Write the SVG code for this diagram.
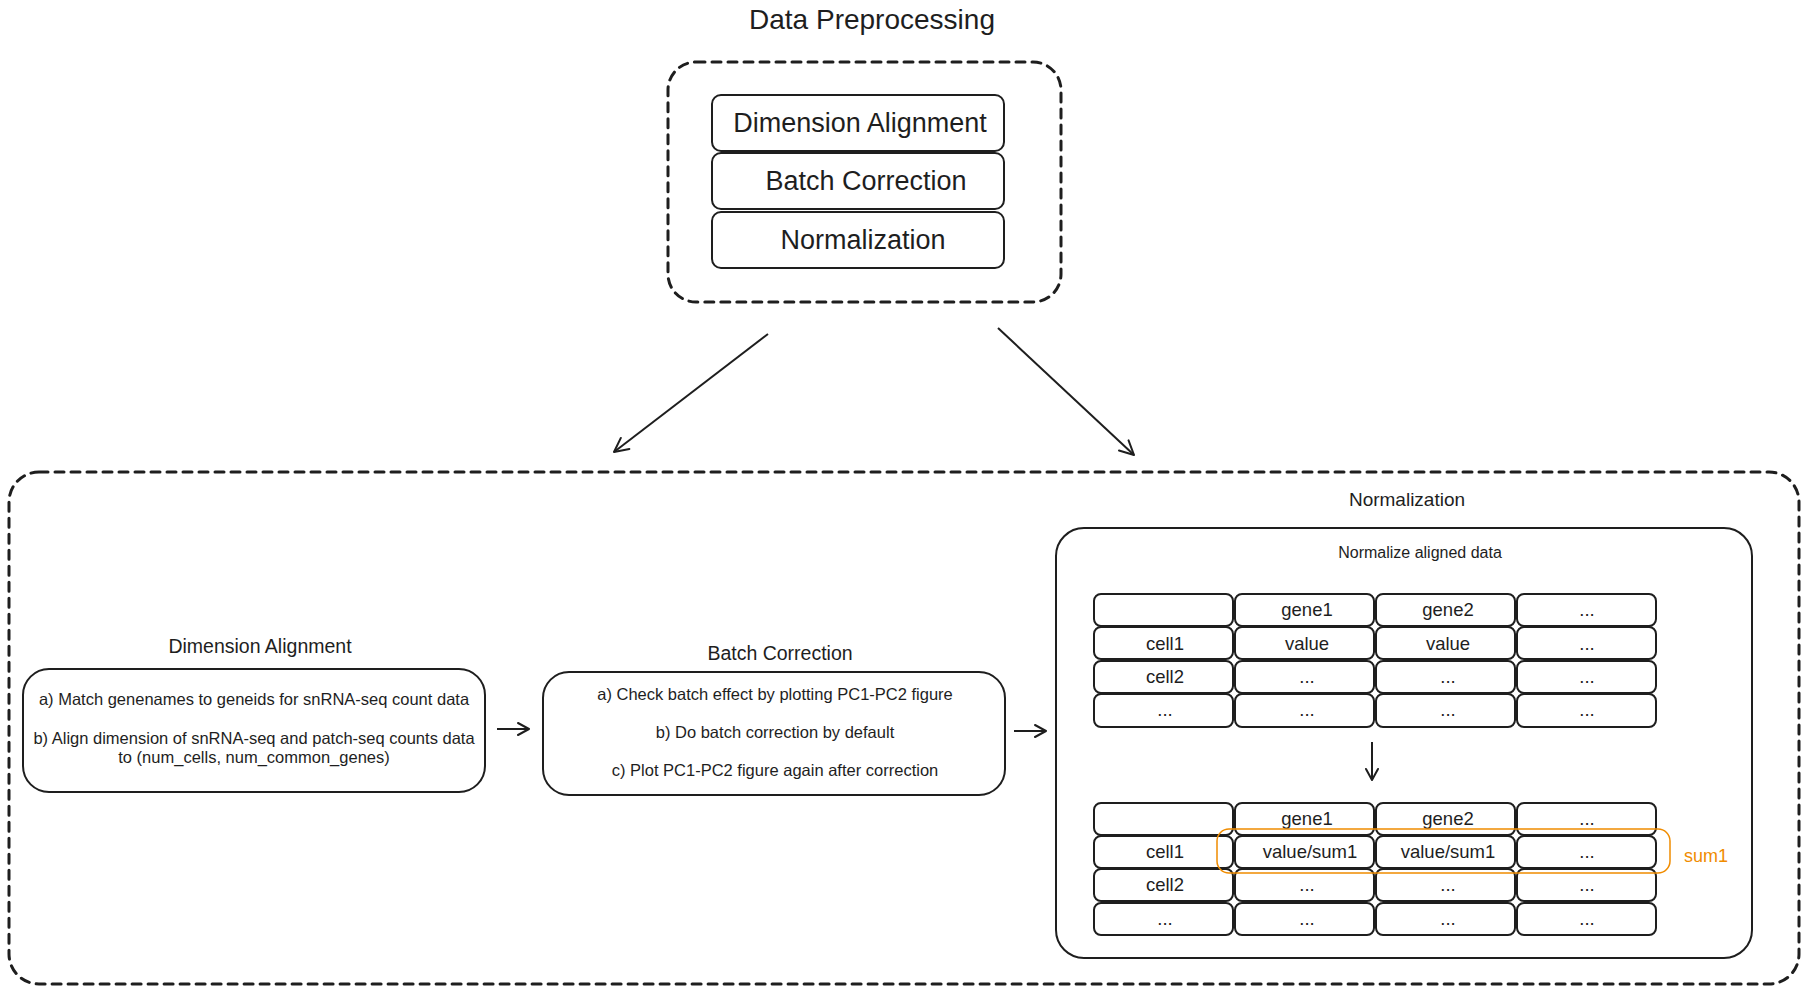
<svg xmlns="http://www.w3.org/2000/svg" width="1812" height="1000" viewBox="0 0 1812 1000">
<defs>
<style>
.t{font-family:"Liberation Sans",Arial,sans-serif;fill:#1e1e1e;text-anchor:middle}
.box{fill:none;stroke:#1e1e1e;stroke-width:2}
.dash{fill:none;stroke:#1e1e1e;stroke-width:3;stroke-dasharray:9 7;stroke-linecap:round}
.cell{fill:#fff;stroke:#1e1e1e;stroke-width:2}
.ct{font-family:"Liberation Sans",Arial,sans-serif;fill:#1e1e1e;text-anchor:middle;font-size:18.5px}
.conn{stroke:#1e1e1e;stroke-width:2;fill:none}
</style>
<marker id="ah" viewBox="0 0 20 20" refX="18" refY="10" markerWidth="20" markerHeight="20" markerUnits="userSpaceOnUse" orient="auto">
<path d="M4 3 L18 10 L4 17" fill="none" stroke="#1e1e1e" stroke-width="2" stroke-linecap="round" stroke-linejoin="round"/>
</marker>
<marker id="ahs" viewBox="0 0 16 16" refX="14" refY="8" markerWidth="16" markerHeight="16" markerUnits="userSpaceOnUse" orient="auto">
<path d="M3 2 L14 8 L3 14" fill="none" stroke="#1e1e1e" stroke-width="2" stroke-linecap="round" stroke-linejoin="round"/>
</marker>
</defs>
<rect width="1812" height="1000" fill="#fff"/>

<g id="preprocessing">
<text class="t" x="872" y="29" font-size="28">Data Preprocessing</text>
<rect class="dash" x="668" y="62" width="393" height="240" rx="28"/>
</g>
<g id="pp-dimension">
<rect class="box" x="712" y="95" width="292" height="56" rx="9" stroke-width="3"/>
<text class="t" x="860" y="132" font-size="27">Dimension Alignment</text>
</g>
<g id="pp-batch">
<rect class="box" x="712" y="153" width="292" height="56" rx="9" stroke-width="3"/>
<text class="t" x="866" y="190" font-size="27">Batch Correction</text>
</g>
<g id="pp-norm">
<rect class="box" x="712" y="212" width="292" height="56" rx="9" stroke-width="3"/>
<text class="t" x="863" y="249" font-size="27">Normalization</text>
</g>

<g id="pipeline">
<rect class="dash" x="9" y="472" width="1790" height="512" rx="30"/>
</g>

<g id="dimension-alignment">
<text class="t" x="260" y="653" font-size="19.5">Dimension Alignment</text>
<rect class="box" x="23" y="669" width="462" height="123" rx="26"/>
<text class="t" x="254" y="705" font-size="16.5">a) Match genenames to geneids for snRNA-seq count data</text>
<text class="t" x="254" y="744" font-size="16.5">b) Align dimension of snRNA-seq and patch-seq counts data</text>
<text class="t" x="254" y="763" font-size="16.5">to (num_cells, num_common_genes)</text>
</g>

<g id="batch-correction">
<text class="t" x="780" y="660" font-size="19.5">Batch Correction</text>
<rect class="box" x="543" y="672" width="462" height="123" rx="26"/>
<text class="t" x="775" y="700" font-size="16.5">a) Check batch effect by plotting PC1-PC2 figure</text>
<text class="t" x="775" y="738" font-size="16.5">b) Do batch correction by default</text>
<text class="t" x="775" y="776" font-size="16.5">c) Plot PC1-PC2 figure again after correction</text>
</g>

<g id="normalization">
<text class="t" x="1407" y="506" font-size="19">Normalization</text>
<rect class="box" x="1056" y="528" width="696" height="430" rx="28"/>
<text class="t" x="1420" y="558" font-size="16">Normalize aligned data</text>
</g>

<g id="table-before">
<rect class="cell" x="1094" y="594" width="139" height="32" rx="7"/>
<rect class="cell" x="1235" y="594" width="139" height="32" rx="7"/>
<rect class="cell" x="1376" y="594" width="139" height="32" rx="7"/>
<rect class="cell" x="1517" y="594" width="139" height="32" rx="7"/>
<rect class="cell" x="1094" y="627" width="139" height="32" rx="7"/>
<rect class="cell" x="1235" y="627" width="139" height="32" rx="7"/>
<rect class="cell" x="1376" y="627" width="139" height="32" rx="7"/>
<rect class="cell" x="1517" y="627" width="139" height="32" rx="7"/>
<rect class="cell" x="1094" y="661" width="139" height="32" rx="7"/>
<rect class="cell" x="1235" y="661" width="139" height="32" rx="7"/>
<rect class="cell" x="1376" y="661" width="139" height="32" rx="7"/>
<rect class="cell" x="1517" y="661" width="139" height="32" rx="7"/>
<rect class="cell" x="1094" y="694" width="139" height="33" rx="7"/>
<rect class="cell" x="1235" y="694" width="139" height="33" rx="7"/>
<rect class="cell" x="1376" y="694" width="139" height="33" rx="7"/>
<rect class="cell" x="1517" y="694" width="139" height="33" rx="7"/>
<text class="ct" x="1307" y="616">gene1</text>
<text class="ct" x="1448" y="616">gene2</text>
<text class="ct" x="1587" y="616">...</text>
<text class="ct" x="1165" y="650">cell1</text>
<text class="ct" x="1307" y="650">value</text>
<text class="ct" x="1448" y="650">value</text>
<text class="ct" x="1587" y="650">...</text>
<text class="ct" x="1165" y="683">cell2</text>
<text class="ct" x="1307" y="683">...</text>
<text class="ct" x="1448" y="683">...</text>
<text class="ct" x="1587" y="683">...</text>
<text class="ct" x="1165" y="716">...</text>
<text class="ct" x="1307" y="716">...</text>
<text class="ct" x="1448" y="716">...</text>
<text class="ct" x="1587" y="716">...</text>
</g>

<g id="table-after">
<rect class="cell" x="1094" y="803" width="139" height="32" rx="7"/>
<rect class="cell" x="1235" y="803" width="139" height="32" rx="7"/>
<rect class="cell" x="1376" y="803" width="139" height="32" rx="7"/>
<rect class="cell" x="1517" y="803" width="139" height="32" rx="7"/>
<rect class="cell" x="1094" y="836" width="139" height="32" rx="7"/>
<rect class="cell" x="1235" y="836" width="139" height="32" rx="7"/>
<rect class="cell" x="1376" y="836" width="139" height="32" rx="7"/>
<rect class="cell" x="1517" y="836" width="139" height="32" rx="7"/>
<rect class="cell" x="1094" y="869" width="139" height="32" rx="7"/>
<rect class="cell" x="1235" y="869" width="139" height="32" rx="7"/>
<rect class="cell" x="1376" y="869" width="139" height="32" rx="7"/>
<rect class="cell" x="1517" y="869" width="139" height="32" rx="7"/>
<rect class="cell" x="1094" y="903" width="139" height="32" rx="7"/>
<rect class="cell" x="1235" y="903" width="139" height="32" rx="7"/>
<rect class="cell" x="1376" y="903" width="139" height="32" rx="7"/>
<rect class="cell" x="1517" y="903" width="139" height="32" rx="7"/>
<text class="ct" x="1307" y="825">gene1</text>
<text class="ct" x="1448" y="825">gene2</text>
<text class="ct" x="1587" y="825">...</text>
<text class="ct" x="1165" y="858">cell1</text>
<text class="ct" x="1310" y="858">value/sum1</text>
<text class="ct" x="1448" y="858">value/sum1</text>
<text class="ct" x="1587" y="858">...</text>
<text class="ct" x="1165" y="891">cell2</text>
<text class="ct" x="1307" y="891">...</text>
<text class="ct" x="1448" y="891">...</text>
<text class="ct" x="1587" y="891">...</text>
<text class="ct" x="1165" y="925">...</text>
<text class="ct" x="1307" y="925">...</text>
<text class="ct" x="1448" y="925">...</text>
<text class="ct" x="1587" y="925">...</text>
</g>

<g id="sum1-highlight">
<rect x="1217" y="829" width="453" height="44" rx="12" fill="none" stroke="#f08c00" stroke-width="1.5"/>
<text x="1706" y="862" font-family="Liberation Sans,Arial,sans-serif" font-size="18" fill="#f08c00" text-anchor="middle">sum1</text>
</g>

<g id="connectors">
<line class="conn" x1="768" y1="334" x2="614" y2="452" marker-end="url(#ah)"/>
<line class="conn" x1="998" y1="328" x2="1134" y2="455" marker-end="url(#ah)" stroke-width="2.5"/>
<line class="conn" x1="497" y1="729" x2="529" y2="729" marker-end="url(#ahs)"/>
<line class="conn" x1="1014" y1="731" x2="1046" y2="731" marker-end="url(#ahs)"/>
<line class="conn" x1="1372" y1="742" x2="1372" y2="780" marker-end="url(#ahs)" stroke-width="3"/>
</g>
</svg>
